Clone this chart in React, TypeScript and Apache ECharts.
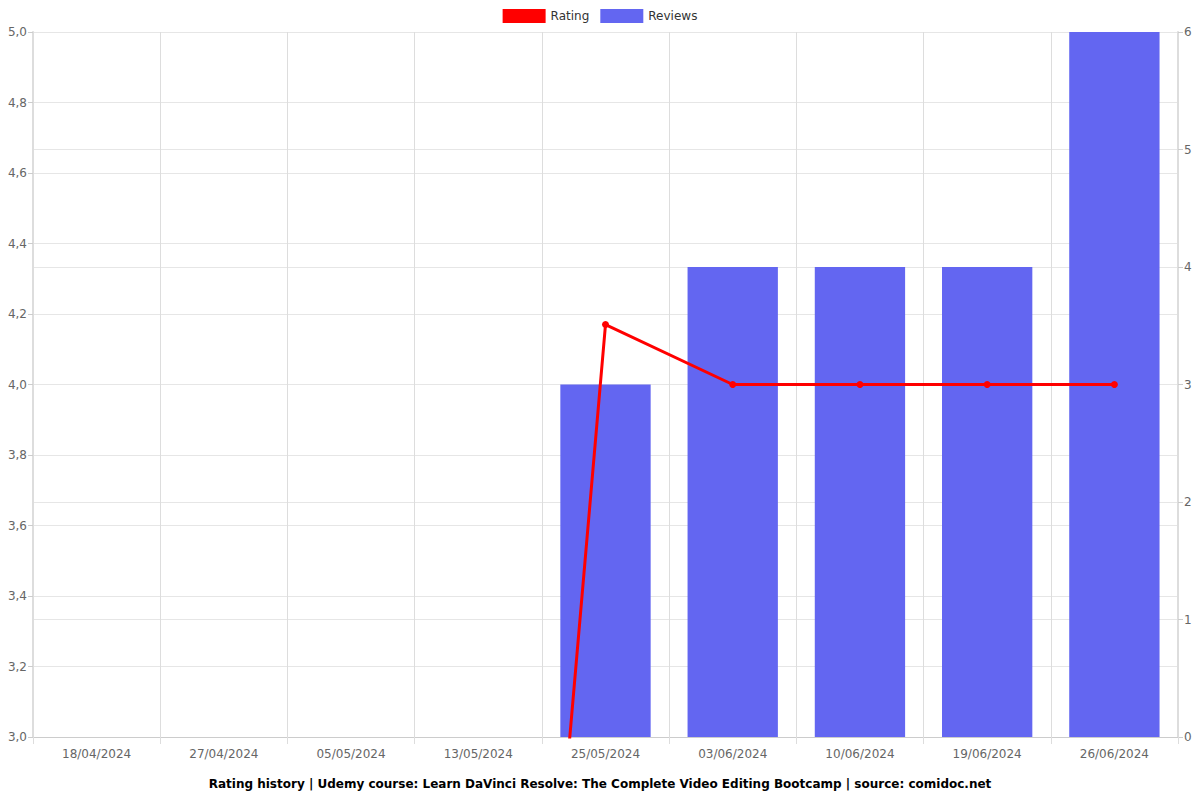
import React, { useEffect, useRef } from "react";
import * as echarts from "echarts";

const categories = ["18/04/2024", "27/04/2024", "05/05/2024", "13/05/2024", "25/05/2024", "03/06/2024", "10/06/2024", "19/06/2024", "26/06/2024"];
const ratingValues = [0, 0, 0, 0, 4.17, 4, 4, 4, 4];
const reviewValues = [0, 0, 0, 0, 3, 4, 4, 4, 6];
const titleText = "Rating history | Udemy course: Learn DaVinci Resolve: The Complete Video Editing Bootcamp | source: comidoc.net";

export default function App() {
  const ref = useRef<HTMLDivElement>(null);
  useEffect(() => {
    const chart = echarts.init(ref.current!, null, { renderer: "svg" });
    const font = "DejaVu Sans";
    chart.setOption({
      animation: false,
      textStyle: { fontFamily: font },
      title: {
        text: titleText,
        left: "center",
        top: 773,
        textStyle: { fontSize: 12, fontWeight: "bold", color: "#000", fontFamily: font },
      },
      legend: {
        top: 4,
        left: "center",
        itemWidth: 43,
        itemHeight: 14,
        itemGap: 11,
        textStyle: { fontSize: 12, color: "#333", fontFamily: font },
        data: [
          { name: "Rating", icon: "rect" },
          { name: "Reviews", icon: "rect" },
        ],
      },
      grid: { left: 33, right: 22, top: 32, bottom: 63, containLabel: false },
      xAxis: {
        type: "category",
        data: categories,
        boundaryGap: true,
        axisLine: { lineStyle: { color: "#ccc" } },
        axisTick: { show: true, length: 7, lineStyle: { color: "#ddd" } },
        axisLabel: { color: "#666", fontSize: 12, margin: 11, fontFamily: font },
        splitLine: { show: true, lineStyle: { color: "#ddd" } },
      },
      yAxis: [
        {
          type: "value",
          min: 3,
          max: 5,
          interval: 0.2,
          axisLine: { show: true, lineStyle: { color: "#ddd", width: 2 } },
          axisTick: { show: true, length: 5, lineStyle: { color: "#ccc" } },
          axisLabel: {
            color: "#666",
            fontSize: 12,
            margin: 6,
            fontFamily: font,
            formatter: (v: number) => v.toFixed(1).replace(".", ","),
          },
          splitLine: { show: true, lineStyle: { color: "#e6e6e6" } },
        },
        {
          type: "value",
          min: 0,
          max: 6,
          interval: 1,
          position: "right",
          axisLine: { show: true, lineStyle: { color: "#ddd", width: 2 } },
          axisTick: { show: true, length: 5, lineStyle: { color: "#ccc" } },
          axisLabel: { color: "#666", fontSize: 12, margin: 6, fontFamily: font },
          splitLine: { show: true, lineStyle: { color: "#e6e6e6" } },
        },
      ],
      series: [
        {
          name: "Rating",
          type: "line",
          yAxisIndex: 0,
          data: ratingValues,
          clip: true,
          z: 3,
          itemStyle: { color: "#ff0000" },
          lineStyle: { color: "#ff0000", width: 3 },
          symbol: "circle",
          symbolSize: 7,
          showSymbol: true,
        },
        {
          name: "Reviews",
          type: "bar",
          yAxisIndex: 1,
          data: reviewValues,
          barWidth: "71%",
          z: 2,
          itemStyle: { color: "#6366f1" },
        },
      ],
    });
    return () => chart.dispose();
  }, []);
  return <div ref={ref} style={{ width: 1200, height: 800, position: "absolute", left: 0, top: 0 }} />;
}
